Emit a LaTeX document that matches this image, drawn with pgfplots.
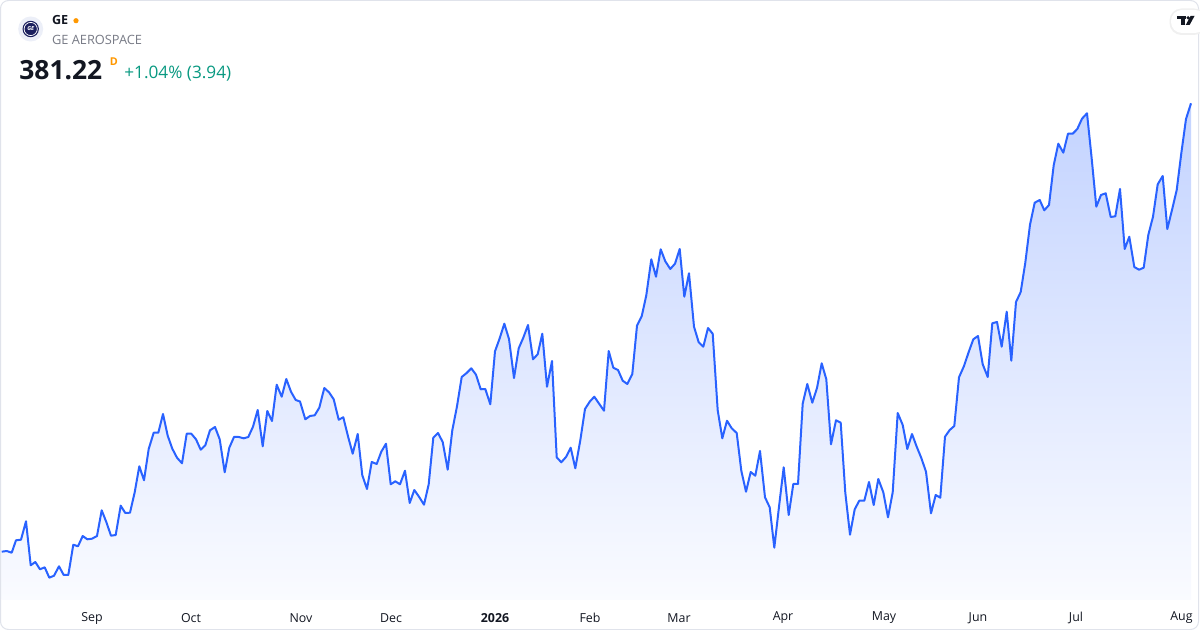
\documentclass[border=0pt]{standalone}
\usepackage{pgfplots}
\pgfplotsset{compat=1.18}
\usepackage{fontspec}
\setmainfont{Open Sans}
\definecolor{tvblue}{RGB}{41,98,255}
\definecolor{tvtext}{RGB}{19,23,34}
\definecolor{tvgray}{RGB}{120,123,134}
\definecolor{tvgreen}{RGB}{8,153,129}
\definecolor{tvorange}{RGB}{255,152,0}
\definecolor{tvborder}{RGB}{224,227,235}
\definecolor{filltop}{RGB}{195,211,255}
\definecolor{fillbot}{RGB}{250,251,255}
\definecolor{genavy}{RGB}{27,31,94}
\definecolor{gebg}{RGB}{236,239,248}
\pgfplotstableread{
x y
1.7 48.3
6.7 49
11.7 47.3
16 59.7
21 60.3
26 78.7
30.7 34.7
35.3 38
40 30.7
44.7 32.7
49.3 22.3
54 24.3
59 33.7
63.7 25
68.3 25
73.3 55.3
78 53.7
82.7 64
87.3 60.7
92 61.3
97 64
101.7 89.7
106.3 78
111 64.3
115.7 65
120.7 94.3
125.3 87
130 87.3
134.7 107.7
139.3 133.7
144 119.7
148.7 151
153.7 167.3
158.3 167.3
163 186
167.7 164.3
172.3 151.3
177 142.3
182 136.7
186.7 166.3
191.3 166.3
196 160.7
200.7 150.3
205.3 154.7
210 169.7
215 173
219.7 160.7
224.7 127.7
229.3 152.3
234 163
238.7 163
243.7 161.7
248.3 163
253 173.3
257.7 190
262.7 153.7
267.3 189
272 179
276.7 215.3
281.7 203.3
286.3 221
291 208.3
295.7 200
300 198.5
305.3 180.7
310 184
314.7 184.7
319.3 192.3
324.3 212
329 207.7
333.7 200.7
338.7 180.3
343.3 182.7
348 163.7
352.7 146.3
357.7 166
362.3 124.7
367 111
371.7 138
376.7 136
381.3 148.3
386 156.3
390.7 115.7
395.3 118.7
400 115.7
405 129.3
409.7 97
414.3 110
419 103.3
424 95.3
428.7 115.7
433.3 162.3
438 167
442.7 158
447.7 130.3
452.3 169.7
457 193.7
461.7 223
466.3 226.7
471.3 231.7
476 225.3
480.7 210.7
485.3 211
490.3 195.7
495 248.7
499.7 261.7
504.3 276.3
509 261
514 222
518.7 251.7
523.3 262.3
528 275
533 240.7
537.7 245.7
542.3 266.3
547 213.3
552 239
556.7 142.7
561.3 137.7
566 143
570.7 152.3
575.3 131.7
580.3 159.7
585 191
589.7 198.3
594.3 203.3
599.3 196
604 189.3
608.7 249
613.3 232.3
618 230
622.7 219.3
627.3 216
632.3 226
637 274.3
641.7 283.7
646.3 304.7
651.3 340.7
656 323.3
660.7 350.7
665.3 338.7
670.3 331
675 336.3
679.7 351
684.3 303.3
689 326.7
694 273.3
698.7 257.7
703.3 253.3
708 272
712.7 266.3
717.7 189.7
722.3 161.7
727 179.3
731.7 171.7
736.7 167
741.3 129.3
746 108.3
750.7 128
755.3 124.3
760 149
765 102.7
769.7 92.7
774.3 52.3
779 93.3
783.7 132.7
788.7 85
793.3 116
798 116
802.7 196.3
807.3 216
812.3 197.3
817 212
821.7 236.7
826.3 220.7
831 155.7
836 179.7
840.7 177.3
845.3 107.3
850 65.3
854.7 90.7
859.3 99.3
864.3 99.3
869 118
873.7 95
878.3 121
883.3 107.7
888 82.7
892.7 107.7
897.7 187
902.7 175
907.3 151
912 166
916.7 153.3
921.3 142
926 128.3
931 86.7
935.7 105
940.3 102.3
945 163.3
949.7 170
954.3 174
959 222.7
964 234
968.7 248
973.3 260.7
978 264
982.7 235.7
987.7 223
992.3 276.7
997 278
1001.7 253.3
1006.7 288.3
1011.3 239.3
1016 298
1020.7 308
1025.3 337.3
1030 375.3
1034.7 397.3
1039.7 400
1044.3 389.7
1049 395
1053.7 434.7
1058.3 456.3
1063.3 447.3
1068 466.3
1072.7 466.3
1077.3 471
1082 481.3
1087 486.7
1091.7 441.3
1096.3 393.3
1101 405
1105.7 406.7
1110.7 383
1115.3 383.7
1120 411
1124.7 351
1129.3 363.3
1134.3 333
1139 330.3
1143.7 332.3
1148.3 365
1153 383.3
1157.7 415.7
1162.7 424
1167.3 371
1172 390
1176.7 410
1181.3 446.7
1186 481
1191 496.7
}\gedata
\begin{document}
\begin{tikzpicture}
\useasboundingbox (0pt,0pt) rectangle (600pt,-315pt);
\fill[white] (0pt,0pt) rectangle (600pt,-315pt);
\begin{axis}[
  at={(0pt,-300pt)}, anchor=south west,
  scale only axis, width=600pt, height=300pt,
  xmin=0, xmax=1200, ymin=0, ymax=600,
  axis line style={draw=none},
  ytick=\empty,
  xtick={92,191,301,391,495,590,679,783,884,978,1076,1181.5},
  xticklabels={Sep,Oct,Nov,Dec,\textbf{2026},Feb,Mar,Apr,May,Jun,Jul,Aug},
  major tick length=0pt,
  xticklabel style={anchor=center, yshift=-9pt, font=\fontsize{6.2pt}{7pt}\selectfont, text=tvtext},
  clip=false,
]
\addplot[draw=none, top color=filltop, bottom color=fillbot] table[x=x,y=y] {\gedata} \closedcycle;
\addplot[tvblue, line width=1pt, line join=round, mark=none] table[x=x,y=y] {\gedata};
\end{axis}
\begin{scope}[x=0.5pt,y=-0.5pt]
\draw[tvborder, line width=0.5pt, rounded corners=4pt] (0.5,0.5) rectangle (1198.5,629.5);
% GE logo
\fill[gebg] (30.7,29) circle[radius=6.25pt];
\fill[genavy] (30.7,29) circle[radius=4.1pt];
\draw[white, line width=0.35pt] (30.7,29) circle[radius=3.3pt];
\node[white, font=\fontsize{2.8pt}{3pt}\selectfont\bfseries\itshape, inner sep=0] at (30.7,29) {GE};
% header text
\node[anchor=base west, inner sep=0, text=tvtext, font=\fontsize{6.3pt}{7pt}\selectfont\bfseries] at (51.7,25) {GE};
\fill[tvorange] (76,20.7) circle[radius=1.3pt];
\node[anchor=base west, inner sep=0, text=tvgray, font=\fontsize{6.4pt}{7pt}\selectfont] at (51.7,44.3) {GE AEROSPACE};
\node[anchor=base west, inner sep=0, text=tvtext, font=\fontsize{13.2pt}{14pt}\selectfont\bfseries] at (19,80) {381.22};
\node[anchor=base west, inner sep=0, text=tvorange, font=\fontsize{5.4pt}{6pt}\selectfont\bfseries] at (109.5,65.5) {D};
\node[anchor=base west, inner sep=0, text=tvgreen, font=\fontsize{8.6pt}{9pt}\selectfont] at (124,78.3) {+1.04\% (3.94)};
% TV logo pill
\fill[black!6, rounded corners=6pt] (1169.5,8.5) rectangle (1206,35);
\fill[white, rounded corners=5.5pt] (1171,10) rectangle (1206,33);
\fill[tvtext] (1177.3,16) rectangle (1186,19.2);
\fill[tvtext] (1181.3,16) rectangle (1184.6,25);
\fill[tvtext] (1188.2,17.8) circle[radius=0.9pt];
\fill[tvtext] (1190.6,16) -- (1194.5,16) -- (1189.6,25) -- (1185.7,25) -- cycle;
\end{scope}
\end{tikzpicture}
\end{document}
